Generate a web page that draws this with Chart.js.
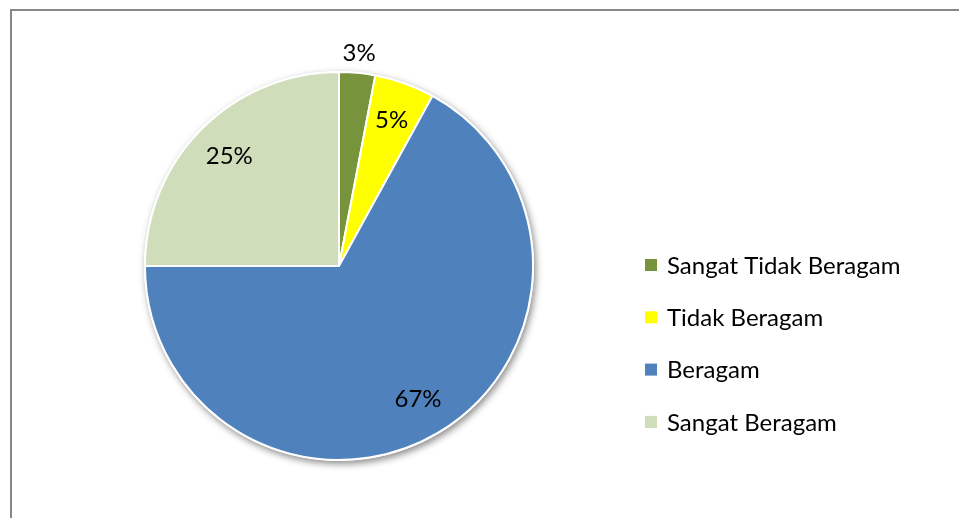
<!DOCTYPE html>
<html>
<head>
<meta charset="utf-8">
<script src="https://cdn.jsdelivr.net/npm/chart.js@4/dist/chart.umd.min.js"></script>
<style>
  html, body { margin: 0; padding: 0; background: #fff; overflow: hidden; }
  #wrap { position: relative; width: 959px; height: 518px; }
  #frame {
    position: absolute; left: 10px; top: 9px; width: 1000px; height: 600px;
    border: 2px solid #878787; box-sizing: border-box;
  }
  #chart { position: absolute; left: 0; top: 0; }
</style>
</head>
<body>
<div id="wrap">
  <div id="frame"></div>
  <canvas id="chart" width="959" height="518"></canvas>
</div>
<script>
const categories = ['Sangat Tidak Beragam', 'Tidak Beragam', 'Beragam', 'Sangat Beragam'];
const percentValues = [3, 5, 67, 25];
const sliceColors = ['#77933C', '#FFFF00', '#4F81BD', '#CFDDBA'];

const FONT = 'Lato, "Open Sans", sans-serif';

// soft drop shadow under the whole pie
const pieShadow = {
    id: 'pieShadow',
    beforeDatasetsDraw(chart) {
        const arc = chart.getDatasetMeta(0).data[0];
        if (!arc) return;
        const ctx = chart.ctx;
        ctx.save();
        ctx.shadowColor = 'rgba(0,0,0,0.45)';
        ctx.shadowBlur = 7;
        ctx.shadowOffsetX = 2;
        ctx.shadowOffsetY = 3;
        ctx.fillStyle = '#fff';
        ctx.beginPath();
        ctx.arc(arc.x, arc.y, arc.outerRadius + 1, 0, Math.PI * 2);
        ctx.fill();
        ctx.restore();
    }
};

// percentage labels, small slices get pushed outside
const sliceLabels = {
    id: 'sliceLabels',
    afterDatasetsDraw(chart, args, opts) {
        const ctx = chart.ctx;
        const meta = chart.getDatasetMeta(0);
        const values = chart.data.datasets[0].data;
        ctx.save();
        ctx.font = opts.font;
        ctx.fillStyle = '#000';
        ctx.textAlign = 'center';
        ctx.textBaseline = 'middle';
        meta.data.forEach((arc, i) => {
            const mid = (arc.startAngle + arc.endAngle) / 2;
            const f = values[i] < opts.outsideBelow ? opts.outerFactor : opts.innerFactor;
            const r = arc.outerRadius * f;
            ctx.fillText(values[i] + '%', arc.x + Math.cos(mid) * r, arc.y + Math.sin(mid) * r);
        });
        ctx.restore();
    }
};

// legend on the right side
const sideLegend = {
    id: 'sideLegend',
    afterDraw(chart, args, opts) {
        const ctx = chart.ctx;
        const colors = chart.data.datasets[0].backgroundColor;
        ctx.save();
        ctx.font = opts.font;
        ctx.textBaseline = 'middle';
        chart.data.labels.forEach((label, i) => {
            const y = opts.top + i * opts.rowGap;
            ctx.fillStyle = colors[i];
            ctx.fillRect(opts.x, y - opts.box / 2, opts.box, opts.box);
            ctx.fillStyle = '#000';
            ctx.fillText(label, opts.x + opts.box + 10, y + 1);
        });
        ctx.restore();
    }
};

const ctx = document.getElementById('chart').getContext('2d');

const data = {
    labels: categories,
    datasets: [{
        data: percentValues,
        backgroundColor: sliceColors,
        borderColor: '#ffffff',
        borderWidth: 2,
    }]
};

const config = {
    type: 'pie',
    data: data,
    options: {
        responsive: false,
        animation: false,
        layout: {
            padding: { left: 144, right: 425, top: 71, bottom: 57 }
        },
        plugins: {
            legend: { display: false },
            tooltip: { enabled: false },
            sliceLabels: {
                font: '24px ' + FONT,
                innerFactor: 0.8,
                outerFactor: 1.1,
                outsideBelow: 4,
            },
            sideLegend: {
                font: '24px ' + FONT,
                x: 645,
                top: 265,
                rowGap: 52.3,
                box: 12,
            }
        }
    },
    plugins: [pieShadow, sliceLabels, sideLegend]
};

const myChart = new Chart(ctx, config);
</script>
</body>
</html>
